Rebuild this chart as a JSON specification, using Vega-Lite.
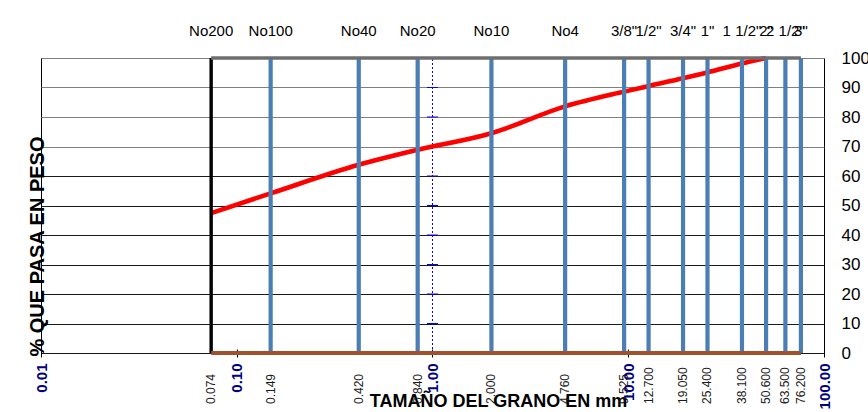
{
  "$schema": "https://vega.github.io/schema/vega-lite/v6.json",
  "width": 783,
  "height": 295,
  "autosize": "none",
  "padding": {"left": 41, "top": 58, "right": 44, "bottom": 59},
  "background": "white",
  "config": {
    "view": {"stroke": "#000000", "strokeWidth": 1},
    "axis": {"labelFont": "Liberation Sans", "titleFont": "Liberation Sans"},
    "text": {"font": "Liberation Sans"}
  },
  "datasets": {
    "curve": [
      {"x": 0.074, "y": 47.4},
      {"x": 0.149, "y": 54.1},
      {"x": 0.42, "y": 63.8},
      {"x": 0.84, "y": 68.9},
      {"x": 2.0, "y": 74.5},
      {"x": 4.76, "y": 83.6},
      {"x": 9.525, "y": 88.6},
      {"x": 12.7, "y": 90.5},
      {"x": 19.05, "y": 93.1},
      {"x": 25.4, "y": 95.1},
      {"x": 38.1, "y": 98.1},
      {"x": 50.6, "y": 100}
    ],
    "sieves": [
      {"x": 0.074, "y": 0, "y2": 100, "bottom": "0.074"},
      {"x": 0.149, "y": 0, "y2": 100, "bottom": "0.149"},
      {"x": 0.42, "y": 0, "y2": 100, "bottom": "0.420"},
      {"x": 0.84, "y": 0, "y2": 100, "bottom": "0.840"},
      {"x": 2.0, "y": 0, "y2": 100, "bottom": "2.000"},
      {"x": 4.76, "y": 0, "y2": 100, "bottom": "4.760"},
      {"x": 9.525, "y": 0, "y2": 100, "bottom": "9.525"},
      {"x": 12.7, "y": 0, "y2": 100, "bottom": "12.700"},
      {"x": 19.05, "y": 0, "y2": 100, "bottom": "19.050"},
      {"x": 25.4, "y": 0, "y2": 100, "bottom": "25.400"},
      {"x": 38.1, "y": 0, "y2": 100, "bottom": "38.100"},
      {"x": 50.6, "y": 0, "y2": 100, "bottom": "50.600"},
      {"x": 63.5, "y": 0, "y2": 100, "bottom": "63.500"},
      {"x": 76.2, "y": 0, "y2": 100, "bottom": "76.200"}
    ],
    "topLabels": [
      {"x": 0.074, "y": 100, "label": "No200"},
      {"x": 0.149, "y": 100, "label": "No100"},
      {"x": 0.42, "y": 100, "label": "No40"},
      {"x": 0.84, "y": 100, "label": "No20"},
      {"x": 2.0, "y": 100, "label": "No10"},
      {"x": 4.76, "y": 100, "label": "No4"},
      {"x": 9.525, "y": 100, "label": "3/8\""},
      {"x": 12.7, "y": 100, "label": "1/2\""},
      {"x": 19.05, "y": 100, "label": "3/4\""},
      {"x": 25.4, "y": 100, "label": "1\""},
      {"x": 38.1, "y": 100, "label": "1 1/2\""},
      {"x": 50.6, "y": 100, "label": "2\""},
      {"x": 63.5, "y": 100, "label": "2 1/2\""},
      {"x": 76.2, "y": 100, "label": "3\""}
    ],
    "frame": [
      {"x": 0.074, "x2": 76.2, "y": 100, "k": "top"},
      {"x": 0.074, "x2": 76.2, "y": 0, "k": "bottom"}
    ],
    "unit": [{"x": 1, "y": 0, "y2": 100}],
    "unitTicks": [
      {"x": 1, "y": 10}, {"x": 1, "y": 20}, {"x": 1, "y": 30},
      {"x": 1, "y": 40}, {"x": 1, "y": 50}, {"x": 1, "y": 60},
      {"x": 1, "y": 70}, {"x": 1, "y": 80}, {"x": 1, "y": 90}
    ]
  },
  "encoding": {
    "x": {
      "field": "x",
      "type": "quantitative",
      "scale": {"type": "log", "domain": [0.01, 100], "nice": false},
      "axis": {
        "values": [0.01, 0.1, 1, 10, 100],
        "format": ".2f",
        "labelAngle": 270,
        "labelAlign": "right",
        "labelBaseline": "middle",
        "labelFontWeight": "bold",
        "labelFontSize": 15,
        "labelColor": "#000080",
        "labelPadding": 6,
        "labelOverlap": false,
        "labelFlush": false,
        "labelBound": false,
        "tickSize": 8,
        "tickColor": "#000000",
        "offset": -4,
        "domain": false,
        "grid": false,
        "title": "TAMAÑO DEL GRANO EN mm",
        "titleFontSize": 18,
        "titleFontWeight": "bold",
        "titleColor": "#000000",
        "titleX": 457,
        "titleY": 57,
        "titleAlign": "center",
        "titleBaseline": "alphabetic"
      }
    },
    "y": {
      "field": "y",
      "type": "quantitative",
      "scale": {"domain": [0, 100], "nice": false},
      "axis": {
        "orient": "right",
        "values": [0, 10, 20, 30, 40, 50, 60, 70, 80, 90, 100],
        "ticks": false,
        "domain": false,
        "labelFontSize": 17,
        "labelPadding": 17,
        "labelColor": "#000000",
        "labelAlign": "left",
        "labelBaseline": "middle",
        "labelOverlap": false,
        "labelFlush": false,
        "grid": true,
        "gridColor": {"condition": {"test": "datum.value >= 70", "value": "#7f7f7f"}, "value": "#1a1a1a"},
        "gridWidth": 1,
        "gridOpacity": 1,
        "title": "% QUE PASA EN PESO",
        "titleAngle": 270,
        "titleFontSize": 20,
        "titleFontWeight": "bold",
        "titleColor": "#000000",
        "titleX": -781,
        "titleY": 188,
        "titleAlign": "center",
        "titleBaseline": "alphabetic"
      }
    }
  },
  "layer": [
    {
      "data": {"name": "unit"},
      "mark": {"type": "rule", "color": "#0000ff", "strokeWidth": 1, "strokeDash": [2, 2]},
      "encoding": {"y2": {"field": "y2"}}
    },
    {
      "data": {"name": "unitTicks"},
      "mark": {"type": "tick", "orient": "horizontal", "color": "#0000ff", "size": 11, "thickness": 1, "opacity": 1}
    },
    {
      "data": {"name": "curve"},
      "mark": {"type": "line", "color": "#ff0000", "strokeWidth": 4.6, "interpolate": "monotone"}
    },
    {
      "data": {"name": "sieves"},
      "transform": [{"filter": "datum.x != 0.074"}],
      "mark": {"type": "rule", "color": "#4a7eb4", "strokeWidth": 4.2},
      "encoding": {"y2": {"field": "y2"}}
    },
    {
      "data": {"name": "sieves"},
      "transform": [{"filter": "datum.x == 0.074"}],
      "mark": {"type": "rule", "color": "#000000", "strokeWidth": 3.4},
      "encoding": {"y2": {"field": "y2"}}
    },
    {
      "data": {"name": "frame"},
      "transform": [{"filter": "datum.k == 'top'"}],
      "mark": {"type": "rule", "color": "#6e6e6e", "strokeWidth": 3.4},
      "encoding": {"x2": {"field": "x2"}}
    },
    {
      "data": {"name": "frame"},
      "transform": [{"filter": "datum.k == 'bottom'"}],
      "mark": {"type": "rule", "color": "#a0522d", "strokeWidth": 4},
      "encoding": {"x2": {"field": "x2"}}
    },
    {
      "data": {"name": "topLabels"},
      "mark": {"type": "text", "fontSize": 15, "color": "#000000", "align": "center", "baseline": "alphabetic", "dy": -22},
      "encoding": {"text": {"field": "label"}}
    },
    {
      "data": {"name": "sieves"},
      "mark": {"type": "text", "fontSize": 12, "color": "#1a1a1a", "angle": 270, "align": "left", "baseline": "middle", "dx": -51},
      "encoding": {"text": {"field": "bottom"}}
    }
  ]
}
